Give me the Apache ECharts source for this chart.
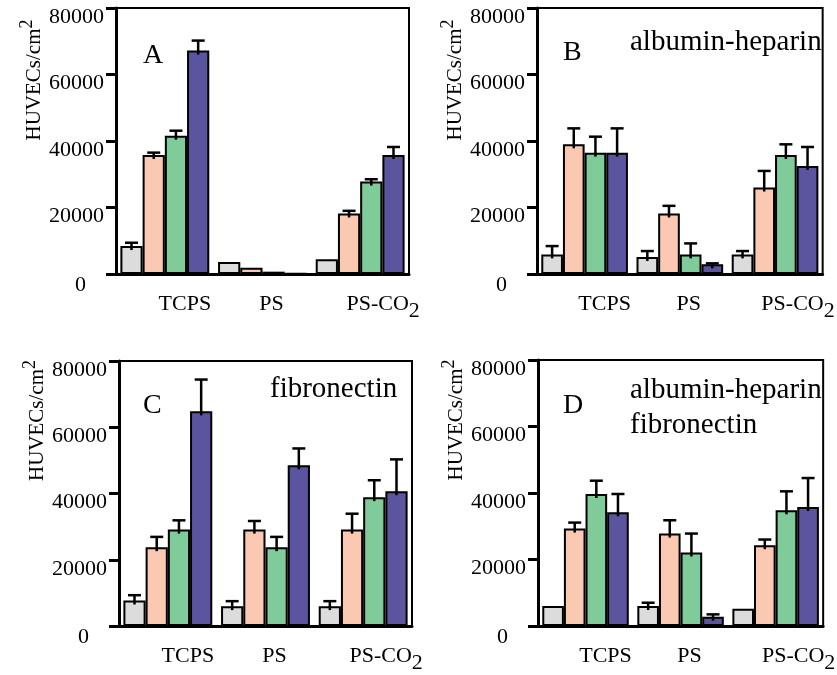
<!DOCTYPE html>
<html>
<head>
<meta charset="utf-8">
<script src="https://cdn.jsdelivr.net/npm/echarts@6/dist/echarts.min.js"></script>
<style>
  html, body { margin: 0; padding: 0; background: #fff; }
  #chart { width: 837px; height: 675px; }
</style>
</head>
<body>
<div id="chart"></div>
<script>
// Substrates on the category axis
const categories = ['TCPS', 'PS', 'PS-CO2'];
// Value axis ticks
const yMin = 0, yMax = 80000, yStep = 20000;

// Cell densities (HUVECs/cm2) per panel; rows = the four bar series, columns = substrates
const panelA = [[8400, 3600, 4400], [35800, 1900, 18200], [41600, 700, 27800], [67200, 200, 35800]];
const panelAErr = [[1000, 0, 0], [700, 0, 800], [1500, 0, 700], [3000, 0, 2400]];

const panelB = [[5900, 5100, 5900], [39000, 18200, 26000], [36500, 5900, 35800], [36500, 2900, 32500]];
const panelBErr = [[2500, 1800, 1000], [4800, 2300, 5000], [4800, 3300, 3200], [7300, 300, 5700]];

const panelC = [[7700, 6000, 6000], [23800, 29100, 29100], [29100, 23800, 38900], [64800, 48500, 40700]];
const panelCErr = [[1600, 1500, 1500], [3100, 2600, 4800], [2800, 3100, 5100], [9600, 5100, 9600]];

const panelD = [[6000, 6000, 5200], [29300, 27800, 24300], [39700, 22100, 34800], [34200, 2800, 35800]];
const panelDErr = [[0, 1000, 0], [1800, 4000, 1700], [4000, 5700, 5700], [5500, 700, 8700]];

const panelLetters = ['A', 'B', 'C', 'D'];
const panelCaptions = [[], ['albumin-heparin'], ['fibronectin'], ['albumin-heparin', 'fibronectin']];

const barColors = ['#dcdcdc', '#fbc9b1', '#80cb9a', '#5b55a0'];
const FONT = '"Liberation Serif", "Times New Roman", serif';
const CAT_GAP = 0.09;

const panels = [
  { values: panelA, errs: panelAErr, grid: { left: 116, top: 8, width: 293, height: 266 }, nameShift: 122 },
  { values: panelB, errs: panelBErr, grid: { left: 537, top: 8, width: 290, height: 266 }, nameShift: 122 },
  { values: panelC, errs: panelCErr, grid: { left: 119, top: 361, width: 293, height: 265 }, nameShift: 146 },
  { values: panelD, errs: panelDErr, grid: { left: 538, top: 360, width: 293, height: 266 }, nameShift: 146 }
];

const grids = [], xAxes = [], yAxes = [], series = [];

panels.forEach((p, k) => {
  grids.push(Object.assign({ show: true, borderColor: '#000', borderWidth: 2, backgroundColor: 'transparent' }, p.grid));

  xAxes.push({
    type: 'category', gridIndex: k, data: categories,
    axisLine: { lineStyle: { color: '#000', width: 3 } },
    axisTick: { show: false },
    axisLabel: {
      margin: 19, interval: 0,
      formatter: v => v === 'TCPS' ? '{t|TCPS}' : v === 'PS' ? '{p|PS}' : '{c|PS-CO}{s|2}',
      rich: {
        t: { fontFamily: FONT, fontSize: 22, color: '#000', lineHeight: 22, verticalAlign: 'top', padding: [0, 0, 0, 40] },
        p: { fontFamily: FONT, fontSize: 22, color: '#000', lineHeight: 22, verticalAlign: 'top', padding: [0, 0, 0, 18] },
        c: { fontFamily: FONT, fontSize: 22, color: '#000', lineHeight: 22, verticalAlign: 'top', padding: [0, 0, 0, 46] },
        s: { fontFamily: FONT, fontSize: 22, color: '#000', lineHeight: 29, verticalAlign: 'bottom' }
      }
    },
    splitLine: { show: false }
  });

  yAxes.push({
    type: 'value', gridIndex: k, min: yMin, max: yMax, interval: yStep,
    name: '{m|HUVECs/cm}{u|2}',
    nameLocation: 'middle', nameRotate: 90, nameGap: 70,
    nameTextStyle: {
      padding: [0, 0, 0, p.nameShift],
      rich: {
        m: { fontFamily: FONT, fontSize: 21, color: '#000', lineHeight: 21, verticalAlign: 'bottom' },
        u: { fontFamily: FONT, fontSize: 18, color: '#000', lineHeight: 27, verticalAlign: 'top' }
      }
    },
    axisLine: { show: true, lineStyle: { color: '#000', width: 3 } },
    axisTick: { show: true, inside: false, length: 10, lineStyle: { color: '#000', width: 3 } },
    axisLabel: {
      margin: 12,
      formatter: v => v === 0 ? '{z|0}' : '{n|' + v + '}',
      rich: {
        n: { fontFamily: FONT, fontSize: 22, color: '#000', padding: [18, 0, 0, 0] },
        z: { fontFamily: FONT, fontSize: 22, color: '#000', padding: [22, 18, 0, 0] }
      }
    },
    splitLine: { show: false }
  });

  p.values.forEach((row, i) => {
    series.push({
      type: 'bar', xAxisIndex: k, yAxisIndex: k, data: row,
      barGap: '0%', barCategoryGap: (CAT_GAP * 100) + '%',
      itemStyle: { color: barColors[i], borderColor: '#000', borderWidth: 2 },
      z: 2, silent: true
    });
  });

  // Upper error bars, placed over each bar of the group
  p.values.forEach((row, i) => {
    series.push({
      type: 'custom', xAxisIndex: k, yAxisIndex: k, z: 3, silent: true,
      data: row.map((v, c) => [c, v, p.errs[i][c]]),
      renderItem: (params, api) => {
        const c = api.value(0), v = api.value(1), e = api.value(2);
        if (!e) return null;
        const band = api.size([1, 0])[0];
        const groupW = band * (1 - CAT_GAP);
        const bw = groupW / 4;
        const base = api.coord([c, v]);
        const tip = api.coord([c, v + e]);
        const x = base[0] - groupW / 2 + (i + 0.5) * bw;
        const st = { stroke: '#000', lineWidth: 2.5 };
        return {
          type: 'group',
          children: [
            { type: 'line', shape: { x1: x, y1: base[1] + 4, x2: x, y2: tip[1] }, style: st },
            { type: 'line', shape: { x1: x - 6.5, y1: tip[1], x2: x + 6.5, y2: tip[1] }, style: st }
          ]
        };
      }
    });
  });
});

// Panel letters and coating captions
const letterPos = [[143, 56], [563, 53], [143, 406], [563, 406]];
const captionPos = [[[0, 0]], [[630, 42]], [[270, 389]], [[630, 390], [630, 425]]];
const graphics = [];
panelLetters.forEach((L, k) => {
  graphics.push({
    type: 'text', x: letterPos[k][0], y: letterPos[k][1], silent: true,
    style: { text: L, fontFamily: FONT, fontSize: 28, fill: '#000', verticalAlign: 'middle', align: 'left' }
  });
  panelCaptions[k].forEach((t, j) => {
    graphics.push({
      type: 'text', x: captionPos[k][j][0], y: captionPos[k][j][1], silent: true,
      style: { text: t, fontFamily: FONT, fontSize: 29, fill: '#000', verticalAlign: 'middle', align: 'left' }
    });
  });
});

const chart = echarts.init(document.getElementById('chart'), null, { renderer: 'canvas' });
chart.setOption({
  animation: false,
  backgroundColor: '#fff',
  grid: grids,
  xAxis: xAxes,
  yAxis: yAxes,
  series: series,
  graphic: graphics
});
</script>
</body>
</html>
